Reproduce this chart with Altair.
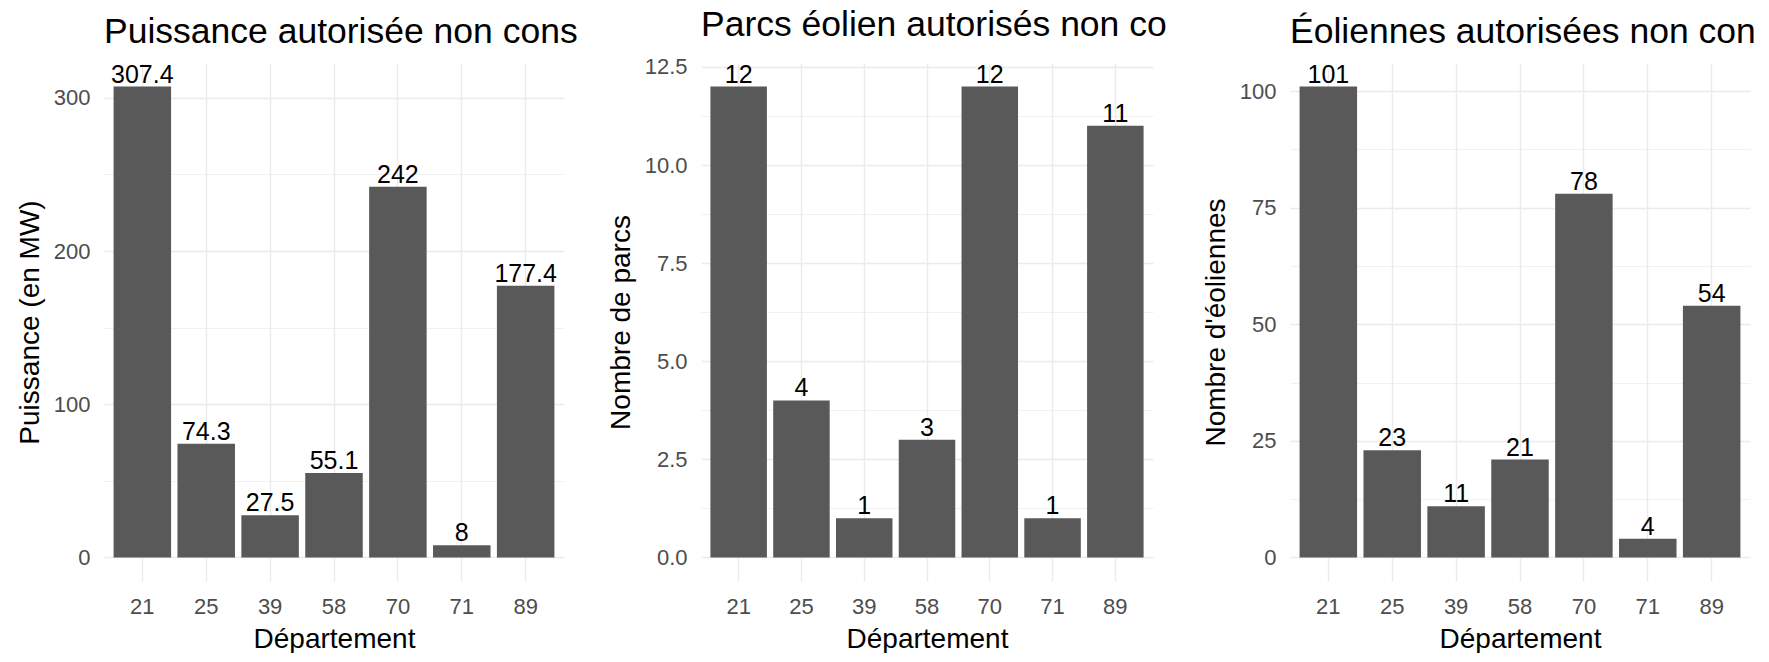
import altair as alt
import pandas as pd

FONT = "Liberation Sans"

departements = ["21", "25", "39", "58", "70", "71", "89"]
puissance = [307.4, 74.3, 27.5, 55.1, 242, 8, 177.4]
parcs = [12, 4, 1, 3, 12, 1, 11]
eoliennes = [101, 23, 11, 21, 78, 4, 54]

titres = [
    "Puissance autorisée non cons",
    "Parcs éolien autorisés non co",
    "Éoliennes autorisées non con",
]
ytitres = ["Puissance (en MW)", "Nombre de parcs", "Nombre d'éoliennes"]
ymajor = [[0, 100, 200, 300], [0, 2.5, 5, 7.5, 10, 12.5], [0, 25, 50, 75, 100]]
yminor = [[50, 150, 250], [1.25, 3.75, 6.25, 8.75, 11.25], [12.5, 37.5, 62.5, 87.5]]
yformat = ["d", ".1f", "d"]
largeurs = [460, 452, 460]
HAUTEUR = 518

BAR = "#595959"
GRID = "#EBEBEB"
TICKLAB = "#4D4D4D"


def panel(values, i):
    df = pd.DataFrame({
        "dep": departements,
        "val": values,
        "lab": [f"{v:g}" for v in values],
    })
    vmax = max(values)
    dom = [-0.05 * vmax, 1.05 * vmax]
    minor = yminor[i]
    test = f"indexof({minor}, datum.value) >= 0"
    x = alt.X(
        "dep:N", sort=departements, title="Département",
        scale=alt.Scale(paddingInner=0.1, paddingOuter=0.15),
        axis=alt.Axis(labelAngle=0, bandPosition=0.5, grid=True, gridColor=GRID,
                      gridWidth=1.4, labelFontSize=22, labelColor=TICKLAB,
                      labelFont=FONT, labelPadding=15, titleFont=FONT,
                      titleFontSize=28, titleFontWeight="normal", titleColor="#000",
                      titlePadding=8, ticks=False, tickSize=0, domain=False),
    )
    y = alt.Y(
        "val:Q", title=ytitres[i],
        scale=alt.Scale(domain=dom, nice=False, zero=False),
        axis=alt.Axis(values=ymajor[i] + minor,
                      labelExpr=f"{test} ? '' : format(datum.value, '{yformat[i]}')",
                      grid=True, gridColor=GRID,
                      gridWidth={"condition": {"test": test, "value": 0.7}, "value": 1.4},
                      labelFontSize=22, labelColor=TICKLAB, labelFont=FONT,
                      labelPadding=14, titleFont=FONT, titleFontSize=28,
                      titleFontWeight="normal", titleColor="#000", titlePadding=9,
                      ticks=False, tickSize=0, domain=False),
    )
    base = alt.Chart(df)
    bars = base.mark_bar(color=BAR).encode(x=x, y=y)
    text = base.mark_text(baseline="alphabetic", dy=-4, fontSize=25, color="#000",
                          font=FONT).encode(
        x=alt.X("dep:N", sort=departements), y=alt.Y("val:Q"), text="lab:N")
    return alt.layer(bars, text).properties(
        width=largeurs[i], height=HAUTEUR,
        title=alt.TitleParams(text=titres[i], anchor="start", frame="group",
                              offset=12, fontSize=35.5, font=FONT,
                              fontWeight="normal", color="#000",
                              baseline="top"),
    )


chart = alt.hconcat(
    panel(puissance, 0), panel(parcs, 1), panel(eoliennes, 2),
    spacing=137, bounds="flush",
).properties(
    padding={"left": 8, "top": 0, "right": 0, "bottom": 0},
).configure_view(stroke=None)

chart.save("out.html", embed_options={"renderer": "svg", "actions": False})
